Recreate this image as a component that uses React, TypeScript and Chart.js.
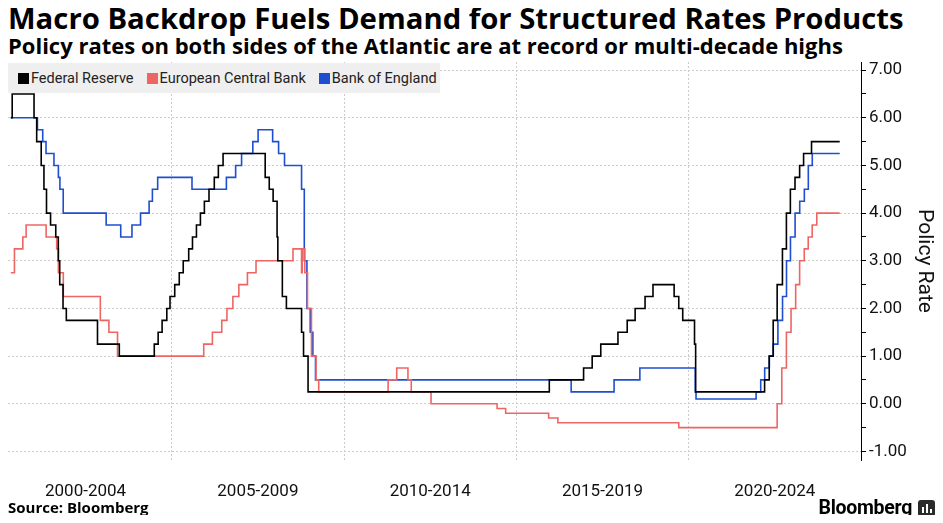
import React, { useEffect, useRef } from "react";
import { Chart, registerables } from "chart.js";

Chart.register(...registerables);

// ---------- DATA ----------
const fedDates = [
  "2000-05-01", "2000-05-16", "2001-01-03", "2001-01-31", "2001-03-20", "2001-04-18", "2001-05-15",
  "2001-06-27", "2001-08-21", "2001-09-17", "2001-10-02", "2001-11-06", "2001-12-11", "2002-11-06",
  "2003-06-25", "2004-06-30", "2004-08-10", "2004-09-21", "2004-11-10", "2004-12-14", "2005-02-02",
  "2005-03-22", "2005-05-03", "2005-06-30", "2005-08-09", "2005-09-20", "2005-11-01", "2005-12-13",
  "2006-01-31", "2006-03-28", "2006-05-10", "2006-06-29", "2007-09-18", "2007-10-31", "2007-12-11",
  "2008-01-22", "2008-01-30", "2008-03-18", "2008-04-30", "2008-10-08", "2008-10-29", "2008-12-16",
  "2015-12-16", "2016-12-14", "2017-03-15", "2017-06-14", "2017-12-13", "2018-03-21", "2018-06-13",
  "2018-09-26", "2018-12-19", "2019-07-31", "2019-09-18", "2019-10-30", "2020-03-03", "2020-03-15",
  "2022-03-16", "2022-05-04", "2022-06-15", "2022-07-27", "2022-09-21", "2022-11-02", "2022-12-14",
  "2023-02-01", "2023-03-22", "2023-05-03", "2023-07-26", "2024-05-20",
];
const fedRates = [
  6.0, 6.5, 6.0, 5.5, 5.0, 4.5, 4.0,
  3.75, 3.5, 3.0, 2.5, 2.0, 1.75, 1.25,
  1.0, 1.25, 1.5, 1.75, 2.0, 2.25, 2.5,
  2.75, 3.0, 3.25, 3.5, 3.75, 4.0, 4.25,
  4.5, 4.75, 5.0, 5.25, 4.75, 4.5, 4.25,
  3.5, 3.0, 2.25, 2.0, 1.5, 1.0, 0.25,
  0.5, 0.75, 1.0, 1.25, 1.5, 1.75, 2.0,
  2.25, 2.5, 2.25, 2.0, 1.75, 1.25, 0.25,
  0.5, 1.0, 1.75, 2.5, 3.25, 4.0, 4.5,
  4.75, 5.0, 5.25, 5.5, 5.5,
];

const ecbDates = [
  "2000-05-01", "2000-06-09", "2000-09-06", "2000-10-11", "2001-05-11", "2001-08-31", "2001-09-18",
  "2001-11-09", "2002-12-06", "2003-03-07", "2003-06-06", "2005-12-06", "2006-03-08", "2006-06-15",
  "2006-08-09", "2006-10-11", "2006-12-13", "2007-03-14", "2007-06-13", "2008-07-09", "2008-10-08",
  "2008-10-15", "2008-11-12", "2008-12-10", "2009-01-21", "2009-03-11", "2009-04-08", "2011-04-13",
  "2011-07-13", "2011-11-09", "2011-12-14", "2012-07-11", "2014-06-11", "2014-09-10", "2015-12-09",
  "2016-03-16", "2019-09-18", "2022-07-27", "2022-09-14", "2022-11-02", "2022-12-21", "2023-02-08",
  "2023-03-22", "2023-05-10", "2023-06-21", "2023-08-02", "2023-09-20", "2024-05-20",
];
const ecbRates = [
  2.75, 3.25, 3.5, 3.75, 3.5, 3.25, 2.75,
  2.25, 1.75, 1.5, 1.0, 1.25, 1.5, 1.75,
  2.0, 2.25, 2.5, 2.75, 3.0, 3.25, 2.75,
  3.25, 2.75, 2.0, 1.0, 0.5, 0.25, 0.5,
  0.75, 0.5, 0.25, 0.0, -0.1, -0.2, -0.3,
  -0.4, -0.5, 0.0, 0.75, 1.5, 2.0, 2.5,
  3.0, 3.25, 3.5, 3.75, 4.0, 4.0,
];

const boeDates = [
  "2000-05-01", "2001-02-08", "2001-04-05", "2001-05-10", "2001-08-02", "2001-09-18", "2001-10-04",
  "2001-11-08", "2003-02-06", "2003-07-10", "2003-11-06", "2004-02-05", "2004-05-06", "2004-06-10",
  "2004-08-05", "2005-08-04", "2006-08-03", "2006-11-09", "2007-01-11", "2007-05-10", "2007-07-05",
  "2007-12-06", "2008-02-07", "2008-04-10", "2008-10-08", "2008-11-06", "2008-12-04", "2009-01-08",
  "2009-02-05", "2009-03-05", "2016-08-04", "2017-11-02", "2018-08-02", "2020-03-11", "2020-03-19",
  "2021-12-16", "2022-02-03", "2022-03-17", "2022-05-05", "2022-06-16", "2022-08-04", "2022-09-22",
  "2022-11-03", "2022-12-15", "2023-02-02", "2023-03-23", "2023-05-11", "2023-06-22", "2023-08-03",
  "2024-05-20",
];
const boeRates = [
  6.0, 5.75, 5.5, 5.25, 5.0, 4.75, 4.5,
  4.0, 3.75, 3.5, 3.75, 4.0, 4.25, 4.5,
  4.75, 4.5, 4.75, 5.0, 5.25, 5.5, 5.75,
  5.5, 5.25, 5.0, 4.5, 3.0, 2.0, 1.5,
  1.0, 0.5, 0.25, 0.5, 0.75, 0.25, 0.1,
  0.25, 0.5, 0.75, 1.0, 1.25, 1.75, 2.25,
  3.0, 3.5, 4.0, 4.25, 4.5, 5.0, 5.25,
  5.25,
];

const seriesNames = ["Federal Reserve", "European Central Bank", "Bank of England"];
const seriesColors = ["#000000", "#ee6663", "#1f4fd0"];

const xTickLabels = ["2000-2004", "2005-2009", "2010-2014", "2015-2019", "2020-2024"];
const periodStarts = [2000, 2005, 2010, 2015, 2020];
const yMajorTicks = [-1, 0, 1, 2, 3, 4, 5, 6, 7];

const X_MIN = 2000.25;
const X_MAX = 2025.0;
const Y_MIN = -1.18;
const Y_MAX = 7.17;

// ---------- helpers ----------
function toYear(d: string): number {
  const [y, m, dd] = d.split("-").map(Number);
  const start = Date.UTC(y, 0, 1);
  const end = Date.UTC(y + 1, 0, 1);
  return y + (Date.UTC(y, m - 1, dd) - start) / (end - start);
}

function points(dates: string[], rates: number[]) {
  return dates.map((d, i) => ({ x: toYear(d), y: rates[i] }));
}

const FONT = "Roboto, 'DejaVu Sans', sans-serif";
const HEAD_FONT = "'Open Sans', Roboto, sans-serif";
const GRID = "#cbcbcb";

export default function App() {
  const canvasRef = useRef<HTMLCanvasElement | null>(null);

  useEffect(() => {
    if (!canvasRef.current) return;
    const allData = [
      points(fedDates, fedRates),
      points(ecbDates, ecbRates),
      points(boeDates, boeRates),
    ];
    const chart = new Chart(canvasRef.current, {
      type: "line",
      data: {
        datasets: allData.map((d, i) => ({
          label: seriesNames[i],
          data: d,
          borderColor: seriesColors[i],
          backgroundColor: seriesColors[i],
          borderWidth: 1.6,
          pointRadius: 0,
          stepped: true,
          fill: false,
        })),
      },
      options: {
        animation: false,
        responsive: false,
        layout: { padding: { left: 8, top: 4, right: 0, bottom: 0 } },
        plugins: {
          legend: { display: false },
          title: { display: false },
          tooltip: { enabled: false },
        },
        scales: {
          x: {
            type: "linear",
            min: X_MIN,
            max: X_MAX,
            afterBuildTicks: (scale: any) => {
              const vals = [
                ...periodStarts.map((s) => s + 2.5),
                ...periodStarts.slice(1),
              ].sort((a, b) => a - b);
              scale.ticks = vals.map((v) => ({ value: v }));
            },
            afterFit: (scale: any) => {
              scale.height = 63;
              scale.paddingLeft = 0;
              scale.paddingRight = 0;
            },
            ticks: {
              autoSkip: false,
              maxRotation: 0,
              padding: 22,
              color: "#111",
              font: { family: FONT, size: 17 },
              callback: (value: any) => {
                const i = periodStarts.findIndex((s) => s + 2.5 === value);
                return i >= 0 ? xTickLabels[i] : "";
              },
            },
            grid: {
              drawTicks: false,
              color: (ctx: any) =>
                ctx.tick && Number.isInteger(ctx.tick.value) ? GRID : "rgba(0,0,0,0)",
              lineWidth: 1,
            },
            border: { display: false, dash: [2, 2] },
          },
          y: {
            type: "linear",
            position: "right",
            min: Y_MIN,
            max: Y_MAX,
            afterBuildTicks: (scale: any) => {
              const vals: number[] = [];
              yMajorTicks.forEach((v, i) => {
                vals.push(v);
                if (i < yMajorTicks.length - 1) vals.push(v + 0.5);
              });
              scale.ticks = vals.map((v) => ({ value: v }));
            },
            afterFit: (scale: any) => {
              scale.width = 82;
              scale.paddingTop = 0;
              scale.paddingBottom = 0;
            },
            ticks: {
              autoSkip: false,
              padding: 3,
              color: "#111",
              font: { family: FONT, size: 17 },
              callback: (value: any) =>
                yMajorTicks.includes(value) ? Number(value).toFixed(2) : "",
            },
            grid: {
              drawTicks: true,
              tickLength: 5,
              tickColor: "#000",
              tickWidth: 1,
              color: (ctx: any) =>
                ctx.tick && Number.isInteger(ctx.tick.value) ? GRID : "rgba(0,0,0,0)",
              lineWidth: 1,
            },
            border: { display: true, color: "#000", width: 1, dash: [2, 2] },
            title: {
              display: true,
              text: "Policy Rate",
              color: "#111",
              font: { family: FONT, size: 21 },
              padding: { top: 6, bottom: 0 },
            },
          },
        },
      },
    });
    return () => chart.destroy();
  }, []);

  return (
    <div style={{ position: "relative", width: 927, height: 507, fontFamily: FONT, color: "#000" }}>
      <div
        style={{
          position: "absolute",
          left: 0,
          top: -5,
          fontFamily: HEAD_FONT,
          fontSize: 29.3,
          lineHeight: "30px",
          fontWeight: 700,
          whiteSpace: "nowrap",
        }}
      >
        Macro Backdrop Fuels Demand for Structured Rates Products
      </div>
      <div
        style={{
          position: "absolute",
          left: 0,
          top: 24.5,
          fontFamily: HEAD_FONT,
          fontSize: 22,
          lineHeight: "24px",
          fontWeight: 700,
          whiteSpace: "nowrap",
        }}
      >
        Policy rates on both sides of the Atlantic are at record or multi-decade highs
      </div>
      <canvas
        ref={canvasRef}
        width={943}
        height={465}
        style={{ position: "absolute", left: -8, top: 50, width: 943, height: 465 }}
      />
      <div
        style={{
          position: "absolute",
          left: 0,
          top: 55,
          width: 432,
          height: 30,
          background: "#efefef",
          display: "flex",
          alignItems: "center",
          paddingLeft: 10,
          boxSizing: "border-box",
          fontSize: 14.5,
          color: "#222",
          whiteSpace: "nowrap",
        }}
      >
        {seriesNames.map((n, i) => (
          <div key={n} style={{ display: "flex", alignItems: "center", marginRight: 13 }}>
            <span
              style={{
                display: "inline-block",
                width: 11,
                height: 11,
                background: seriesColors[i],
                marginRight: 2,
              }}
            />
            <span>{n}</span>
          </div>
        ))}
      </div>
      <div
        style={{
          position: "absolute",
          left: 0,
          top: 490,
          fontFamily: HEAD_FONT,
          fontSize: 15,
          lineHeight: "18px",
          fontWeight: 700,
          whiteSpace: "nowrap",
        }}
      >
        Source: Bloomberg
      </div>
      <div
        style={{
          position: "absolute",
          right: 0,
          top: 490,
          display: "flex",
          alignItems: "center",
          whiteSpace: "nowrap",
        }}
      >
        <span style={{ fontSize: 19.5, lineHeight: "20px", fontWeight: 700, letterSpacing: -0.3 }}>
          Bloomberg
        </span>
        <span
          style={{
            display: "inline-block",
            width: 17,
            height: 17,
            marginLeft: 6,
            background: "#2b2b2b",
            borderRadius: 3,
            position: "relative",
          }}
        >
          <span style={{ position: "absolute", left: 4, top: 7, width: 2, height: 6, background: "#fff" }} />
          <span style={{ position: "absolute", left: 8, top: 4, width: 2, height: 9, background: "#fff" }} />
          <span style={{ position: "absolute", left: 12, top: 9, width: 2, height: 4, background: "#fff" }} />
        </span>
      </div>
    </div>
  );
}
